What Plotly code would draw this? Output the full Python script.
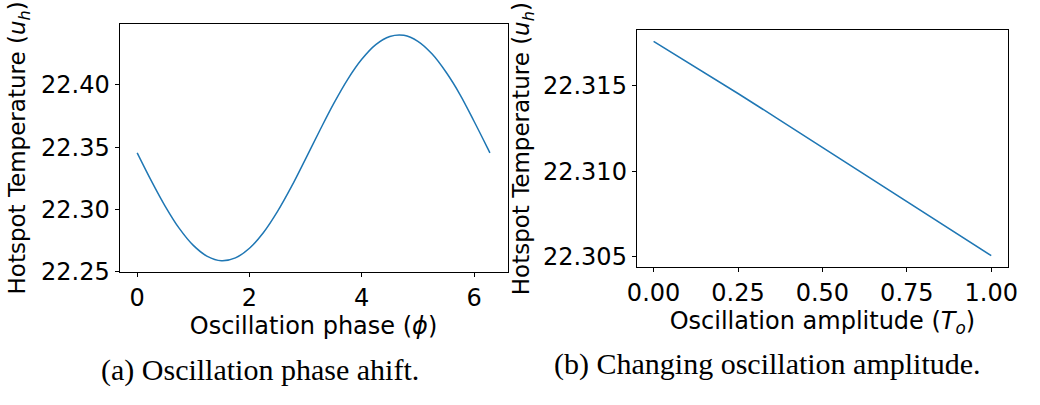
import plotly.graph_objects as go

# Panel (a): oscillation phase shift
phase = [0.0, 0.25, 0.5, 0.75, 1.0, 1.25, 1.5, 1.75, 2.0, 2.25, 2.5, 2.75, 3.0,
         3.25, 3.5, 3.75, 4.0, 4.25, 4.5, 4.75, 5.0, 5.25, 5.5, 5.75, 6.0, 6.25, 6.283]
temp_phase = [22.3454, 22.3232, 22.3026, 22.2849, 22.2713, 22.2625, 22.2590, 22.2613,
              22.2690, 22.2816, 22.2985, 22.3185, 22.3406, 22.3631, 22.3848, 22.4043,
              22.4203, 22.4321, 22.4386, 22.4395, 22.4347, 22.4247, 22.4101, 22.3921,
              22.3707, 22.3484, 22.3454]

# Panel (b): changing oscillation amplitude
amplitude = [0.0, 0.125, 0.25, 0.375, 0.5, 0.625, 0.75, 0.875, 1.0]
temp_amp = [22.31761, 22.31610, 22.31455, 22.31298, 22.31140,
            22.30981, 22.30823, 22.30664, 22.30504]

xticks_a = [0, 2, 4, 6]
yticks_a = [22.25, 22.30, 22.35, 22.40]
xticks_b = [0.0, 0.25, 0.5, 0.75, 1.0]
yticks_b = [22.305, 22.310, 22.315]

caption_a = "(a) Oscillation phase ahift."
caption_b = "(b) Changing oscillation amplitude."

W, H = 1040, 405
blue = "#1f77b4"
FS = 24
font = dict(family="DejaVu Sans", size=FS, color="black")

fig = go.Figure()
fig.add_trace(go.Scatter(x=phase, y=temp_phase, mode="lines", line=dict(color=blue, width=1.5, shape="spline"),
                         xaxis="x", yaxis="y", showlegend=False))
fig.add_trace(go.Scatter(x=amplitude, y=temp_amp, mode="lines", line=dict(color=blue, width=1.5),
                         xaxis="x2", yaxis="y2", showlegend=False))

axis_common = dict(showline=True, mirror=True, linecolor="black", linewidth=1, ticks="outside",
                   ticklen=4, tickcolor="black", showgrid=False, zeroline=False,
                   tickfont=dict(family="DejaVu Sans", size=FS, color="black"))

ytitle_font = dict(family="DejaVu Sans", size=23, color="black")

fig.update_layout(
    width=W, height=H, margin=dict(l=0, r=0, t=0, b=0),
    paper_bgcolor="white", plot_bgcolor="white", font=font,
    xaxis=dict(domain=[111.7 / W, 507.3 / W], range=[-0.314, 6.597], tickvals=xticks_a,
               anchor="y", title=dict(text="Oscillation phase (<i>ϕ</i>)", standoff=3,
                                      font=dict(size=FS)), **axis_common),
    yaxis=dict(domain=[1 - 281.7 / H, 1 - 24.7 / H], range=[22.2500, 22.4487], tickvals=yticks_a,
               tickformat=".2f", anchor="x",
               title=dict(text="Hotspot Temperature (<i>u<sub>h</sub></i>)", standoff=8,
                          font=ytitle_font), **axis_common),
    xaxis2=dict(domain=[639 / W, 1017.7 / W], range=[-0.05, 1.05], tickvals=xticks_b,
                tickformat=".2f", anchor="y2",
                title=dict(text="Oscillation amplitude (<i>T<sub>o</sub></i>)", standoff=0,
                           font=dict(size=FS)), **axis_common),
    yaxis2=dict(domain=[1 - 276.7 / H, 1 - 31.3 / H], range=[22.30437, 22.31826], tickvals=yticks_b,
                tickformat=".3f", anchor="x2",
                title=dict(text="Hotspot Temperature (<i>u<sub>h</sub></i>)", standoff=6,
                           font=ytitle_font), **axis_common),
    annotations=[
        dict(text=caption_a, x=255 / W, y=1 - 383 / H, xref="paper", yref="paper",
             xanchor="center", yanchor="middle", showarrow=False,
             font=dict(family="Liberation Serif", size=30, color="black")),
        dict(text=caption_b, x=772.5 / W, y=1 - 377 / H, xref="paper", yref="paper",
             xanchor="center", yanchor="middle", showarrow=False,
             font=dict(family="Liberation Serif", size=30, color="black")),
    ],
)

fig.write_html("out.html")
